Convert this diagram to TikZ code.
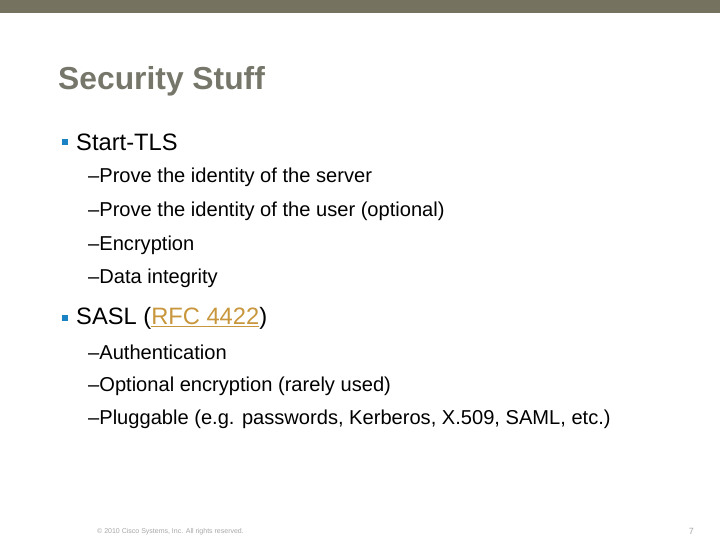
\documentclass[tikz,border=0pt]{standalone}
\usepackage{fontspec}
\setmainfont{Liberation Sans}
\definecolor{bar}{HTML}{75725F}
\definecolor{ttl}{HTML}{76766A}
\definecolor{bul}{HTML}{1B83C4}
\definecolor{lnk}{HTML}{C8963C}
\begin{document}
\begin{tikzpicture}[x=1pt,y=-1pt,
  lone/.style={anchor=west,inner sep=0pt,font=\fontsize{23.7}{27}\selectfont},
  ltwo/.style={anchor=west,inner sep=0pt,font=\fontsize{20.1}{24}\selectfont},
  sq/.style={fill=bul,minimum size=6.5pt,inner sep=0pt}]
\useasboundingbox (0,0) rectangle (720,540);
\fill[bar] (0,0) rectangle (720,13);
\node[anchor=west,inner sep=0pt,text=ttl,font=\fontsize{31.8}{36}\selectfont\bfseries] (title) at (58,81) {Security Stuff};
\node[sq] (b1) at (65,142) {};
\node[lone] (t1) at (76,142) {Start-TLS};
\node[ltwo] (a1) at (88,177) {–Prove the identity of the server};
\node[ltwo] (a2) at (88,211) {–Prove the identity of the user (optional)};
\node[ltwo] (a3) at (88,245) {–Encryption};
\node[ltwo] (a4) at (88,278) {–Data integrity};
\node[sq] (b2) at (65,318) {};
\node[lone] (t2) at (76,318) {SASL (\textcolor{lnk}{\underline{RFC 4422}})};
\node[ltwo] (c1) at (88,352) {–Authentication};
\node[ltwo] (c2) at (88,386) {–Optional encryption (rarely used)};
\node[ltwo] (c3) at (88,419) {–Pluggable (e.g. passwords, Kerberos, X.509, SAML, etc.)};
\node[anchor=west,inner sep=0pt,text=gray!70,font=\fontsize{7}{8}\selectfont] (foot) at (97,532) {© 2010 Cisco Systems, Inc. All rights reserved.};
\node[anchor=east,inner sep=0pt,text=gray!70,font=\fontsize{9}{10}\selectfont] (pg) at (694,531) {7};
\end{tikzpicture}
\end{document}
